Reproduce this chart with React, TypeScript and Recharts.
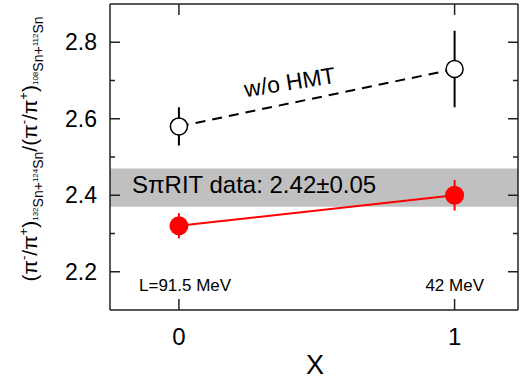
import {
  ErrorBar,
  ReferenceArea,
  Scatter,
  ScatterChart,
  XAxis,
  YAxis,
  Customized,
} from "recharts";

// x positions of the two calculations
const xValues = [0, 1];
// without HMT (open circles, dashed)
const woHmt = [2.58, 2.73];
const woHmtErr = [0.05, 0.1];
// with HMT (red filled)
const hmt = [2.32, 2.4];
const hmtErr = [0.033, 0.04];
// SpiRIT measurement band
const dataCenter = 2.42;
const dataErr = 0.05;

const yTicks = [2.2, 2.3, 2.4, 2.5, 2.6, 2.7, 2.8];
const yLabels = [2.2, 2.4, 2.6, 2.8];
const xTicks = [0, 1];

const woHmtRows = xValues.map((x, i) => ({ x, y: woHmt[i], err: woHmtErr[i] }));
const hmtRows = xValues.map((x, i) => ({ x, y: hmt[i], err: hmtErr[i] }));

const FONT = "'Liberation Sans', Arial, sans-serif";
const AXIS = "#222";
const MAJOR = 10;
const MINOR = 5;
const isMajor = (v: number) => yLabels.some((l) => Math.abs(l - v) < 1e-6);

const OpenDot = (p: any) => (
  <circle cx={p.cx} cy={p.cy} r={8.5} fill="#fff" stroke="#000" strokeWidth={1.5} />
);
const RedDot = (p: any) => <circle cx={p.cx} cy={p.cy} r={9.5} fill="#ff0000" />;

// tick label sits 13px left of the axis line
const LeftTick = ({ x, y, payload }: any) => {
  const ax = x + 13;
  const major = isMajor(payload.value);
  return (
    <g>
      <line x1={ax} x2={ax + (major ? MAJOR : MINOR)} y1={y} y2={y} stroke={AXIS} strokeWidth={1.5} />
      {major && (
        <text x={x} y={y + 8} textAnchor="end" fontSize={23} fontFamily={FONT} fill="#000">
          {payload.value.toFixed(1)}
        </text>
      )}
    </g>
  );
};

const RightTick = ({ x, y, payload }: any) => {
  const major = isMajor(payload.value);
  return (
    <line x1={x} x2={x - (major ? MAJOR : MINOR)} y1={y} y2={y} stroke={AXIS} strokeWidth={1.5} />
  );
};

const YTitle = () => (
  <text
    transform="translate(37,149) rotate(-90)"
    textAnchor="middle"
    fontFamily={FONT}
    fill="#000"
    fontSize={21}
  >
    <tspan>(π</tspan>
    <tspan fontSize={13} dy={-9}>-</tspan>
    <tspan dy={9}>/π</tspan>
    <tspan fontSize={13} dy={-9}>+</tspan>
    <tspan dy={9}>)</tspan>
    <tspan fontSize={8} dy={1}>132</tspan>
    <tspan fontSize={14} dy={5}>Sn+</tspan>
    <tspan fontSize={8} dy={-5}>124</tspan>
    <tspan fontSize={14} dy={5}>Sn</tspan>
    <tspan dy={-6}>/(π</tspan>
    <tspan fontSize={13} dy={-9}>-</tspan>
    <tspan dy={9}>/π</tspan>
    <tspan fontSize={13} dy={-9}>+</tspan>
    <tspan dy={9}>)</tspan>
    <tspan fontSize={8} dy={1}>108</tspan>
    <tspan fontSize={14} dy={5}>Sn+</tspan>
    <tspan fontSize={8} dy={-5}>112</tspan>
    <tspan fontSize={14} dy={5}>Sn</tspan>
  </text>
);

const Notes = () => (
  <g fontFamily={FONT} fill="#000">
    <text x={291} y={90} fontSize={23} textAnchor="middle" transform="rotate(-9 291 90)">
      w/o HMT
    </text>
    <text x={139} y={291} fontSize={17}>
      L=91.5 MeV
    </text>
    <text x={484} y={291} fontSize={17} textAnchor="end">
      42 MeV
    </text>
    <text x={315} y={374} fontSize={27} textAnchor="middle">
      X
    </text>
  </g>
);

const BandLabel = ({ viewBox }: any) => (
  <text
    x={viewBox.x + 22}
    y={viewBox.y + viewBox.height / 2 + 5.5}
    fontSize={24}
    fontFamily={FONT}
    fill="#000"
  >
    SπRIT data: {dataCenter.toFixed(2)}±{dataErr.toFixed(2)}
  </text>
);

export default function App() {
  return (
    <div style={{ position: "absolute", left: 0, top: 0, background: "#fff" }}>
      <ScatterChart
        width={527}
        height={389}
        margin={{ top: 3, right: 8, bottom: 0, left: 0 }}
      >
        <ReferenceArea
          y1={dataCenter - dataErr}
          y2={dataCenter + dataErr}
          fill="#c0c0c0"
          fillOpacity={1}
          stroke="none"
          ifOverflow="visible"
          zIndex={-50}
          label={<BandLabel />}
        />
        <XAxis
          type="number"
          dataKey="x"
          domain={[-0.25, 1.23]}
          ticks={xTicks}
          height={79}
          tickSize={-11}
          tickMargin={29}
          axisLine={{ stroke: AXIS, strokeWidth: 1.5 }}
          tickLine={{ stroke: AXIS, strokeWidth: 1.5 }}
          tick={{ fill: "#000", fontSize: 24, fontFamily: FONT }}
          allowDataOverflow
        />
        <XAxis
          xAxisId="top"
          orientation="top"
          type="number"
          dataKey="x"
          domain={[-0.25, 1.23]}
          ticks={xTicks}
          height={1}
          tickSize={-11}
          tickFormatter={() => ""}
          axisLine={{ stroke: AXIS, strokeWidth: 1.5 }}
          tickLine={{ stroke: AXIS, strokeWidth: 1.5 }}
          allowDataOverflow
        />
        <YAxis
          type="number"
          dataKey="y"
          domain={[2.1, 2.9]}
          ticks={yTicks}
          width={110}
          tickSize={0}
          tickMargin={13}
          tickLine={false}
          tick={<LeftTick />}
          axisLine={{ stroke: AXIS, strokeWidth: 1.5 }}
          allowDataOverflow
        />
        <YAxis
          yAxisId="right"
          orientation="right"
          type="number"
          dataKey="y"
          domain={[2.1, 2.9]}
          ticks={yTicks}
          width={1}
          tickSize={0}
          tickMargin={0}
          tickLine={false}
          tick={<RightTick />}
          axisLine={{ stroke: AXIS, strokeWidth: 1.5 }}
          allowDataOverflow
        />
        <Scatter
          data={woHmtRows}
          line={{ stroke: "#000", strokeWidth: 2, strokeDasharray: "10 7" }}
          shape={OpenDot}
          isAnimationActive={false}
        >
          <ErrorBar dataKey="err" direction="y" width={0} stroke="#000" strokeWidth={2} />
        </Scatter>
        <Scatter
          data={hmtRows}
          line={{ stroke: "#ff0000", strokeWidth: 2 }}
          shape={RedDot}
          isAnimationActive={false}
        >
          <ErrorBar dataKey="err" direction="y" width={0} stroke="#ff0000" strokeWidth={2} />
        </Scatter>
        <Customized component={YTitle} />
        <Customized component={Notes} />
      </ScatterChart>
    </div>
  );
}
